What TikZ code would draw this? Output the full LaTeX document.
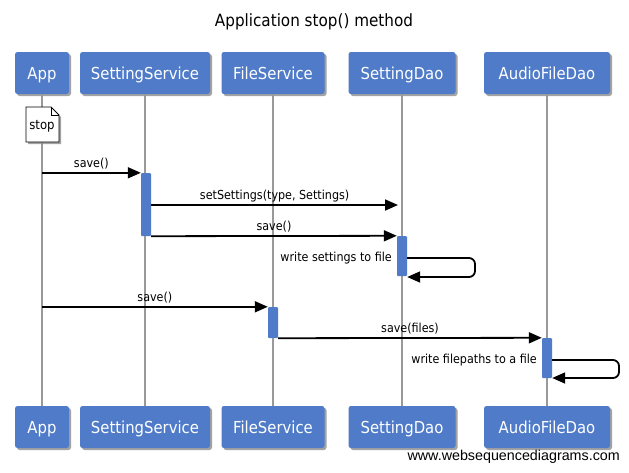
\documentclass[tikz,border=0pt]{standalone}
\usepackage{fontspec}
\setmainfont{DejaVu Sans Condensed}
\newfontfamily\footfont{Liberation Sans}
\usetikzlibrary{arrows.meta,shadows,positioning}
\definecolor{boxblue}{HTML}{4F7BC8}
\definecolor{lifegray}{HTML}{999999}
\tikzset{
  actor/.style={fill=boxblue, rounded corners=2.5pt, text=white, minimum height=42pt,
     inner sep=0pt, font=\fontsize{16.5}{18}\selectfont, text height=15pt, text depth=2pt,
     drop shadow={shadow xshift=2pt, shadow yshift=-2pt, fill=black!45, opacity=0.8}},
  life/.style={draw=lifegray, line width=2pt},
  act/.style={fill=boxblue, minimum width=10pt, inner sep=0pt, rounded corners=1pt},
  msg/.style={line width=1.8pt, -{Triangle[length=13pt,width=11pt]}},
  lbl/.style={font=\fontsize{12.4}{14}\selectfont, inner sep=0pt},
}
\begin{document}
\begin{tikzpicture}[x=1pt,y=-1pt]
\useasboundingbox (0,0) rectangle (629,472);
\fill[white] (0,0) rectangle (629,472);
\node[font=\fontsize{16.9}{19}\selectfont] (title) at (314,22) {Application stop() method};
% actors top
\node[actor, minimum width=54pt]  (appT) at (42,73)  {App};
\node[actor, minimum width=130pt] (ssT)  at (145,73) {SettingService};
\node[actor, minimum width=103pt] (fsT)  at (273,73) {FileService};
\node[actor, minimum width=107pt] (sdT)  at (402,73) {SettingDao};
\node[actor, minimum width=126pt] (afT)  at (547,73) {AudioFileDao};
% actors bottom
\node[actor, minimum width=54pt]  (appB) at (42,427)  {App};
\node[actor, minimum width=130pt] (ssB)  at (145,427) {SettingService};
\node[actor, minimum width=103pt] (fsB)  at (273,427) {FileService};
\node[actor, minimum width=107pt] (sdB)  at (402,427) {SettingDao};
\node[actor, minimum width=126pt] (afB)  at (547,427) {AudioFileDao};
% lifelines
\draw[life] (appT.south) -- (appB.north);
\draw[life] (ssT.south) -- (ssB.north);
\draw[life] (fsT.south) -- (fsB.north);
\draw[life] (sdT.south) -- (sdB.north);
\draw[life] (afT.south) -- (afB.north);
% note
\fill[black!45, opacity=0.8] (28,109) -- (53,109) -- (61,117) -- (61,144) -- (28,144) -- cycle;
\draw[fill=white, line width=0.8pt] (26,107) -- (51,107) -- (59,115) -- (59,142) -- (26,142) -- cycle;
\draw[line width=0.8pt] (51,107) -- (51,115) -- (59,115);
\node[lbl, font=\fontsize{13}{14}\selectfont] (stop) at (42,126) {stop};
% activations
\node[act, minimum height=63pt] (a1) at (146,204.5) {};
\node[act, minimum height=40pt] (a2) at (402,256) {};
\node[act, minimum height=31pt] (a3) at (273,322.5) {};
\node[act, minimum height=40pt] (a4) at (547,358) {};
% messages
\coordinate (m2e) at (398,205);
\draw[msg] (appT.south |- a1.north) -- (a1.north west) node[lbl, midway, above=2.5pt] {save()};
\draw[msg] (a1.east |- m2e) -- (m2e) node[lbl, midway, above=2.5pt] {setSettings(type, Settings)};
\draw[msg] (a1.south east) -- (a2.north west) node[lbl, midway, above=2.5pt] {save()};
\coordinate (s1a) at (475,258);
\coordinate (s1b) at (475,277);
\draw[msg, rounded corners=6pt] (a2.east |- s1a) -- (s1a) -- (s1b) -- (a2.east |- s1b);
\node[lbl, anchor=east] at (392,258) {write settings to file};
\draw[msg] (appT.south |- a3.north) -- (a3.north west) node[lbl, midway, above=2.5pt] {save()};
\draw[msg] (a3.south east) -- (a4.north west) node[lbl, midway, above=2.5pt] {save(files)};
\coordinate (s2a) at (619,360);
\coordinate (s2b) at (619,378);
\draw[msg, rounded corners=6pt] (a4.east |- s2a) -- (s2a) -- (s2b) -- (a4.east |- s2b);
\node[lbl, anchor=east] at (537,360) {write filepaths to a file};
% footer
\node[font=\footfont\fontsize{14.3}{15}\selectfont, anchor=east, inner sep=0pt] (foot) at (620,457) {www.websequencediagrams.com};
\end{tikzpicture}
\end{document}
